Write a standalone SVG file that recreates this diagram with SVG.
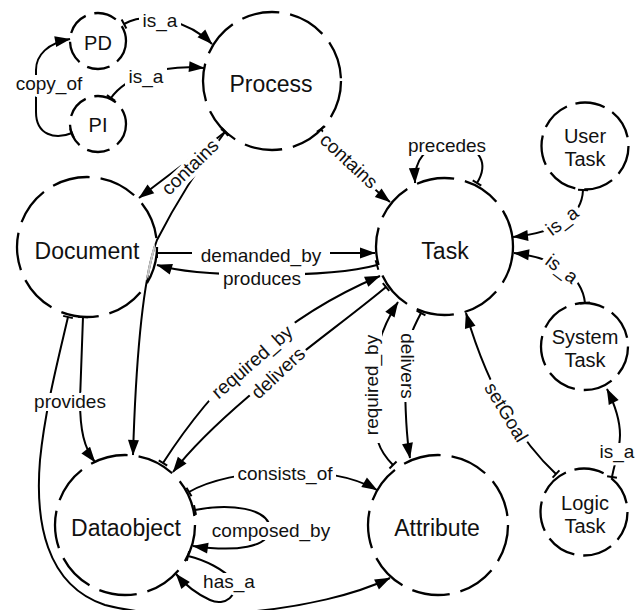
<svg xmlns="http://www.w3.org/2000/svg" width="638" height="610" viewBox="0 0 638 610">
  <style>
    .node { fill: #fff; stroke: #000; stroke-width: 2.3; }
    .big { stroke-dasharray: 38 11; }
    .small { stroke-dasharray: 30 9; }
    .tiny { stroke-dasharray: 23 9; }
    .nl { font-family: "Liberation Sans", Arial, sans-serif; font-size: 23px; fill: #111; text-anchor: middle; }
    .ns { font-family: "Liberation Sans", Arial, sans-serif; font-size: 20px; fill: #111; text-anchor: middle; }
    .edge { fill: none; stroke: #000; stroke-width: 2; marker-start: url(#tick); marker-end: url(#arrow); }
    .lb { fill: #fff; }
    .el { font-family: "Liberation Sans", Arial, sans-serif; font-size: 19px; fill: #111; text-anchor: middle;
          stroke: #fff; stroke-width: 6; stroke-linejoin: round; paint-order: stroke; }
  </style>
  <defs>
    <marker id="arrow" viewBox="-16 -6 17 12" refX="0" refY="0" markerWidth="17" markerHeight="12"
            markerUnits="userSpaceOnUse" orient="auto">
      <path d="M0.5,0 L-15,-5.5 L-15,5.5 Z" fill="#000"/>
    </marker>
    <marker id="tick" viewBox="-2 -6 4 12" refX="0" refY="0" markerWidth="4" markerHeight="12"
            markerUnits="userSpaceOnUse" orient="auto">
      <path d="M0,-5 V5" stroke="#000" stroke-width="2"/>
    </marker>
    <clipPath id="docInside">
      <circle cx="87" cy="247" r="68"/>
    </clipPath>
  </defs>

  <rect width="638" height="610" fill="#fff"/>

  <!-- concept nodes -->
  <g id="node-pd">
    <circle class="node tiny" cx="98" cy="41" r="28"/>
    <text class="ns" x="98" y="50">PD</text>
  </g>
  <g id="node-pi">
    <circle class="node tiny" cx="98" cy="124" r="28"/>
    <text class="ns" x="98" y="132">PI</text>
  </g>
  <g id="node-process">
    <circle class="node big" cx="272" cy="81" r="69"/>
    <text class="nl" x="271" y="92">Process</text>
  </g>
  <g id="node-document">
    <circle class="node big" cx="87" cy="247" r="70"/>
    <text class="nl" x="87" y="259">Document</text>
  </g>
  <g id="node-task">
    <circle class="node big" cx="444.5" cy="246.5" r="68.5"/>
    <text class="nl" x="445" y="259">Task</text>
  </g>
  <g id="node-usertask">
    <circle class="node small" cx="585" cy="146" r="43.5"/>
    <text class="ns" x="585" y="143">User</text>
    <text class="ns" x="585" y="166">Task</text>
  </g>
  <g id="node-systemtask">
    <circle class="node small" cx="584.5" cy="346.5" r="43.5"/>
    <text class="ns" x="585" y="344">System</text>
    <text class="ns" x="585" y="367">Task</text>
  </g>
  <g id="node-logictask">
    <circle class="node small" cx="584" cy="512" r="43.5"/>
    <text class="ns" x="585" y="510">Logic</text>
    <text class="ns" x="585" y="533">Task</text>
  </g>
  <g id="node-dataobject">
    <circle class="node big" cx="125" cy="525" r="70"/>
    <text class="nl" x="126" y="536">Dataobject</text>
  </g>
  <g id="node-attribute">
    <circle class="node big" cx="438" cy="525" r="70"/>
    <text class="nl" x="437" y="536">Attribute</text>
  </g>

  <!-- relations -->
  <g id="connectors">
    <!-- PD is_a Process -->
    <path class="edge" d="M124,24 C150,10 190,22 212,44"/>
    <!-- PI is_a Process -->
    <path class="edge" d="M111,98 C125,78 160,64 204,68"/>
    <!-- PI copy_of PD -->
    <path class="edge" d="M72,133 C55,140 36,135 36,112 L36,70 C36,55 48,43 70,39"/>
    <!-- Process contains Document -->
    <path class="edge" d="M225,132 C200,152 165,178 139,198"/>
    <!-- Process contains Dataobject (passes over Document) -->
    <path class="edge" d="M225,132 Q185,185 157,240 Q138,290 133,455"/>
    <path d="M225,132 Q185,185 157,240 Q138,290 133,455" fill="none" stroke="#c9c9c9" stroke-width="2.2" clip-path="url(#docInside)"/>
    <!-- Process contains Task -->
    <path class="edge" d="M321,129 C335,150 362,180 390,202"/>
    <!-- Task precedes Task -->
    <path class="edge" d="M477,183 C488,165 483,145 450,145 C425,145 414,160 415,183"/>
    <!-- Document demanded_by Task -->
    <path class="edge" d="M157,253 L375,253"/>
    <!-- Task produces Document -->
    <path class="edge" d="M377,265 C330,278 200,278 157,265"/>
    <!-- Dataobject required_by Task -->
    <path class="edge" d="M163,463 C210,390 275,320 380,276"/>
    <!-- Task delivers Dataobject -->
    <path class="edge" d="M386,287 C335,330 225,405 173,472"/>
    <!-- Attribute required_by Task -->
    <path class="edge" d="M393,465 C380,452 373,440 373,395 C373,355 380,330 398,302"/>
    <!-- Task delivers Attribute -->
    <path class="edge" d="M421,313 C412,330 405,345 405,370 C405,410 406,435 410,458"/>
    <!-- Logic Task setGoal Task -->
    <path class="edge" d="M556,474 C525,445 490,395 466,313"/>
    <!-- User Task is_a Task -->
    <path class="edge" d="M583,190 C582,215 560,232 513,237"/>
    <!-- System Task is_a Task -->
    <path class="edge" d="M585,303 C582,275 555,258 514,253"/>
    <!-- Logic Task is_a System Task -->
    <path class="edge" d="M612,477 C614,465 620,450 620,435 C620,420 614,403 607,389"/>
    <!-- Dataobject consists_of Attribute -->
    <path class="edge" d="M189,492 C230,468 330,462 377,490"/>
    <!-- Dataobject composed_by Dataobject -->
    <path class="edge" d="M195,510 C230,503 268,508 270,528 C270,548 235,552 193,546"/>
    <!-- Dataobject has_a Dataobject -->
    <path class="edge" d="M188,556 C205,560 225,570 232,580 C240,595 225,607 210,600 C197,594 186,586 176,574"/>
    <!-- Document provides Dataobject -->
    <path class="edge" d="M83,317 L80,400 C80,430 84,448 95,462"/>
    <!-- Document provides Attribute -->
    <path class="edge" d="M68,317 C58,360 45,410 40,460 C35,520 45,585 105,605 C180,625 320,612 390,578"/>

    <!-- relation labels: each sits on a white plate that breaks the line under it -->
    <g transform="translate(160,21)"><rect class="lb" x="-21" y="-9" width="42" height="18"/><text class="el" y="6">is_a</text></g>
    <g transform="translate(146,77)"><rect class="lb" x="-21" y="-9" width="42" height="18"/><text class="el" y="6">is_a</text></g>
    <g transform="translate(49,84)"><rect class="lb" x="-37" y="-9" width="74" height="18"/><text class="el" y="6">copy_of</text></g>
    <g transform="translate(191,168) rotate(-44)"><rect class="lb" x="-39" y="-9" width="78" height="18"/><text class="el" y="5">contains</text></g>
    <g transform="translate(348,162) rotate(43)"><rect class="lb" x="-39" y="-9" width="78" height="18"/><text class="el" y="5">contains</text></g>
    <g transform="translate(447,146)"><rect class="lb" x="-43" y="-9" width="86" height="18"/><text class="el" y="6">precedes</text></g>
    <g transform="translate(261,256)"><rect class="lb" x="-69" y="-9" width="138" height="18"/><text class="el" y="6">demanded_by</text></g>
    <g transform="translate(262,279)"><rect class="lb" x="-43" y="-9" width="86" height="18"/><text class="el" y="6">produces</text></g>
    <g transform="translate(253,363) rotate(-41)"><rect class="lb" x="-58" y="-9" width="116" height="18"/><text class="el" y="5">required_by</text></g>
    <g transform="translate(279,374) rotate(-43)"><rect class="lb" x="-36" y="-9" width="72" height="18"/><text class="el" y="5">delivers</text></g>
    <g transform="translate(373,385) rotate(-90)"><rect class="lb" x="-58" y="-9" width="116" height="18"/><text class="el" y="5">required_by</text></g>
    <g transform="translate(406,366) rotate(90)"><rect class="lb" x="-36" y="-9" width="72" height="18"/><text class="el" y="5">delivers</text></g>
    <g transform="translate(505,413) rotate(59)"><rect class="lb" x="-36" y="-9" width="72" height="18"/><text class="el" y="5">setGoal</text></g>
    <g transform="translate(563,222) rotate(-37)"><rect class="lb" x="-21" y="-9" width="42" height="18"/><text class="el" y="5">is_a</text></g>
    <g transform="translate(561,270) rotate(37)"><rect class="lb" x="-21" y="-9" width="42" height="18"/><text class="el" y="5">is_a</text></g>
    <g transform="translate(617,452)"><rect class="lb" x="-21" y="-9" width="42" height="18"/><text class="el" y="6">is_a</text></g>
    <g transform="translate(285,474)"><rect class="lb" x="-51" y="-9" width="102" height="18"/><text class="el" y="6">consists_of</text></g>
    <g transform="translate(271,531)"><rect class="lb" x="-63" y="-9" width="126" height="18"/><text class="el" y="6">composed_by</text></g>
    <g transform="translate(229,582)"><rect class="lb" x="-29" y="-9" width="58" height="18"/><text class="el" y="6">has_a</text></g>
    <g transform="translate(70,402)"><rect class="lb" x="-39" y="-9" width="78" height="18"/><text class="el" y="6">provides</text></g>
  </g>
</svg>
